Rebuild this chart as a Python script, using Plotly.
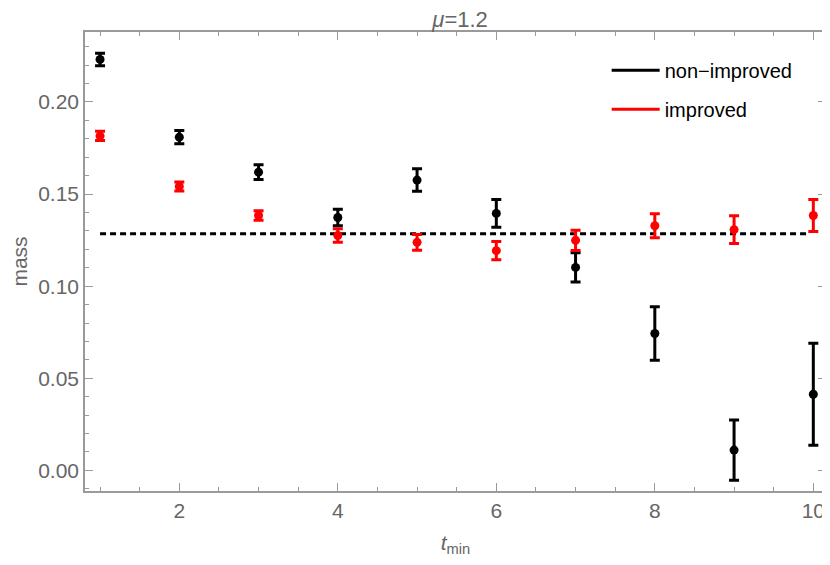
import plotly.graph_objs as go

# effective mass vs t_min
t_min = [1, 2, 3, 4, 5, 6, 7, 8, 9, 10]

mass_non = [0.2231, 0.1809, 0.1619, 0.1373, 0.1576, 0.1395, 0.1102, 0.0743, 0.0110, 0.0413]
err_non = [0.0034, 0.0036, 0.0040, 0.0045, 0.0061, 0.0075, 0.0079, 0.0145, 0.0164, 0.0277]

mass_imp = [0.1816, 0.1541, 0.1384, 0.1275, 0.1238, 0.1193, 0.1249, 0.1328, 0.1307, 0.1384]
err_imp = [0.0025, 0.0024, 0.0026, 0.0037, 0.0043, 0.0050, 0.0055, 0.0065, 0.0075, 0.0087]

fit_x = [1, 9.92]
fit_y = [0.1285, 0.1285]

gray = "#666666"
frame = "#9a9a9a"
font = "Liberation Sans"


def points(y, err, color):
    return go.Scatter(
        x=t_min, y=y, mode="markers",
        marker=dict(color=color, size=9),
        error_y=dict(type="data", array=err, color=color, thickness=3, width=5),
        showlegend=False,
    )


trace_fit = go.Scatter(
    x=fit_x, y=fit_y, mode="lines",
    line=dict(color="black", width=3, dash="6px,4px"),
    showlegend=False,
)
trace_non = points(mass_non, err_non, "black")
trace_imp = points(mass_imp, err_imp, "red")

# legend entries only
leg_non = go.Scatter(x=[None], y=[None], mode="lines", name="non\u2212improved",
                     line=dict(color="black", width=3), legendgroup="a")
leg_imp = go.Scatter(x=[None], y=[None], mode="lines", name="improved",
                     line=dict(color="red", width=3), legendgroup="b")

axis_common = dict(
    showline=True, linecolor=frame, linewidth=1.5, mirror="ticks",
    ticks="inside", ticklen=8, tickcolor=frame, tickwidth=1.2,
    showgrid=False, zeroline=False, automargin=False,
    tickfont=dict(family=font, size=21, color=gray),
)

# the page body has an 8px margin, so the figure is sized to fit the window
layout = go.Layout(
    width=822, height=557,
    margin=dict(l=77, r=4, t=24, b=74),
    paper_bgcolor="white", plot_bgcolor="white",
    title=dict(text="<i>\u03bc</i>=1.2", x=0.55, xanchor="center", y=0.979, yanchor="middle",
               font=dict(family=font, size=22, color=gray)),
    xaxis=dict(
        range=[0.81, 10.16], tickvals=[2, 4, 6, 8, 10],
        minor=dict(ticks="inside", ticklen=4, dtick=0.5, tick0=0, tickcolor=frame),
        title=dict(text="<i>t</i><sub>min</sub>", standoff=14,
                   font=dict(family=font, size=21, color=gray)),
        **axis_common
    ),
    yaxis=dict(
        range=[-0.0112, 0.238], tickvals=[0.0, 0.05, 0.10, 0.15, 0.20], tickformat=".2f",
        minor=dict(ticks="inside", ticklen=4, dtick=0.01, tick0=0, tickcolor=frame),
        title=dict(text="mass", standoff=12,
                   font=dict(family=font, size=21, color=gray)),
        **axis_common
    ),
    legend=dict(x=0.704, y=0.959, xanchor="left", yanchor="top", itemwidth=48,
                font=dict(family=font, size=20, color="black"),
                bgcolor="rgba(0,0,0,0)", tracegroupgap=10),
)

fig = go.Figure(data=[trace_fit, trace_non, trace_imp, leg_non, leg_imp], layout=layout)
fig.write_html("out.html")
